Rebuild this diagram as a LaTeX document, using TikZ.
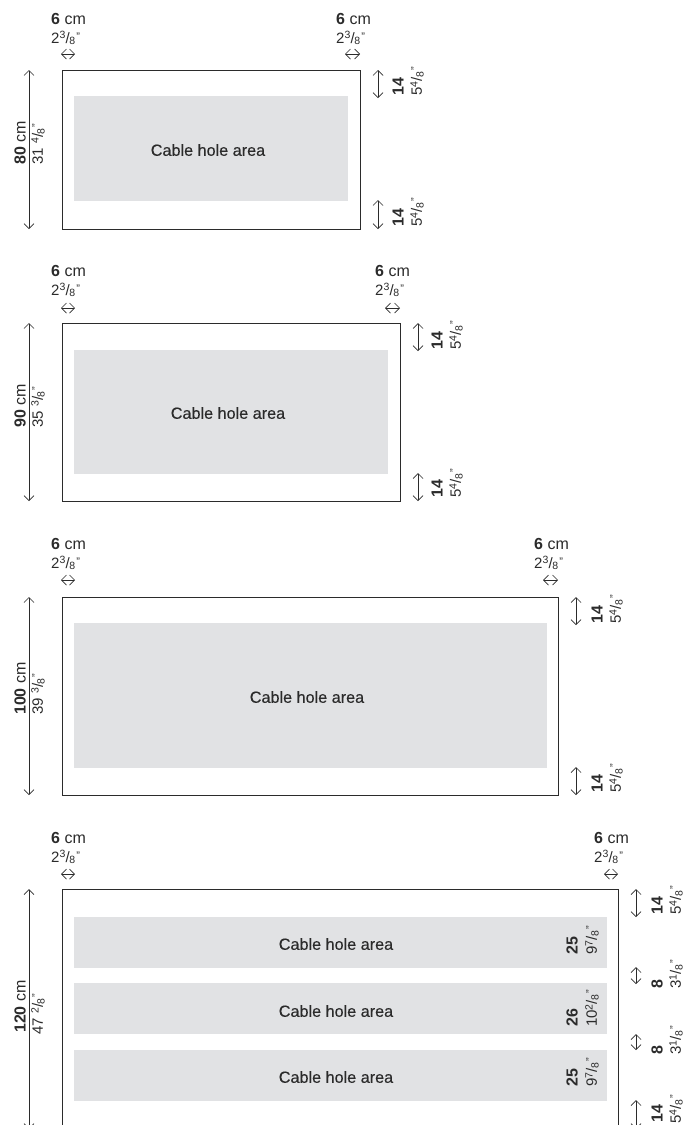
\documentclass[tikz,border=0pt]{standalone}
\usepackage{xcolor}
\usepackage{fontspec}
\usepackage{tikz}
\usetikzlibrary{arrows.meta}
\usetikzlibrary{positioning}
\setmainfont{Liberation Sans}
\newfontfamily\areafont[FakeBold=.25]{Liberation Sans}
\definecolor{fieldgray}{HTML}{E1E2E4}
\definecolor{inkgray}{HTML}{2B2B2B}
\newcommand{\frc}[2]{\raisebox{.28em}{\fontsize{10.5}{11}\selectfont#1}\kern.01em/\kern-.02em\raisebox{-.12em}{\fontsize{10.5}{11}\selectfont#2}}
\newcommand{\inch}{\kern.08em\raisebox{.2em}{\fontsize{11}{11}\selectfont"}}
\tikzset{
  panel/.style={draw=inkgray,line width=1pt,inner sep=0pt},
  field/.style={fill=fieldgray,inner sep=0pt},
  area/.style={inner sep=0pt,font=\areafont\fontsize{16.2}{17}\selectfont,text=inkgray},
  cmtext/.style={inner sep=0pt,anchor=west,font=\fontsize{16}{17}\selectfont,text=inkgray},
  intext/.style={inner sep=0pt,anchor=west,font=\fontsize{15}{16}\selectfont,text=inkgray},
  cmside/.style={cmtext,rotate=90},
  inside/.style={intext,rotate=90},
  dim/.style={<->,>={Straight Barb[length=5pt,width=10pt]},line width=.7pt,draw=inkgray},
}
\begin{document}
\begin{tikzpicture}[x=1pt,y=-1pt]
\useasboundingbox (0,0) rectangle (692,1125);
\clip (0,0) rectangle (692,1125);
% first table
\node (fieldA) [field,minimum width=274pt,minimum height=105pt] at (211,148.5) {};
\node (panelA) [panel,minimum width=298pt,minimum height=159pt] at (211,149.5) {};
\node (areaA) [area] at (208,150) {Cable hole area};
\node (cmA) [cmtext] at (51,19) {\textbf{6} cm};
\node (inA) [intext,below=6.5pt of cmA.south west,anchor=north west] {2\frc{3}{8}\inch};
\node (cmB) [cmtext] at (336,19) {\textbf{6} cm};
\node (inB) [intext,below=6.5pt of cmB.south west,anchor=north west] {2\frc{3}{8}\inch};
\coordinate (a1) at (61,54);
\coordinate (a2) at (75,54);
\coordinate (a3) at (345,54);
\coordinate (a4) at (360,54);
\coordinate (a5) at (29,70);
\coordinate (a6) at (29,229);
\coordinate (a7) at (378,70);
\coordinate (a8) at (378,98);
\coordinate (a9) at (378,200);
\coordinate (a10) at (378,229);
\draw[dim] (a1) -- (a2);
\draw[dim] (a3) -- (a4);
\draw[dim] (a5) -- (a6);
\draw[dim] (a7) -- (a8);
\draw[dim] (a9) -- (a10);
\node (sizeA) [cmside] at (20,165) {\textbf{80} cm};
\node (sizeB) [inside] at (38,165) {31 \frc{4}{8}\inch};
\node (sizeC) [cmside] at (398,96) {\textbf{14}};
\node (sizeD) [inside] at (417,96) {5\frc{4}{8}\inch};
\node (sizeE) [cmside] at (398,227) {\textbf{14}};
\node (sizeF) [inside] at (417,227) {5\frc{4}{8}\inch};
% second table
\node (fieldB) [field,minimum width=314pt,minimum height=124pt] at (231,412) {};
\node (panelB) [panel,minimum width=338pt,minimum height=178pt] at (231,412) {};
\node (areaB) [area] at (228,413) {Cable hole area};
\node (cmC) [cmtext] at (51,271) {\textbf{6} cm};
\node (inC) [intext,below=6.5pt of cmC.south west,anchor=north west] {2\frc{3}{8}\inch};
\node (cmD) [cmtext] at (375,271) {\textbf{6} cm};
\node (inD) [intext,below=6.5pt of cmD.south west,anchor=north west] {2\frc{3}{8}\inch};
\coordinate (b1) at (61,308);
\coordinate (b2) at (75,308);
\coordinate (b3) at (385,308);
\coordinate (b4) at (400,308);
\coordinate (b5) at (29,323);
\coordinate (b6) at (29,501);
\coordinate (b7) at (418,323);
\coordinate (b8) at (418,351);
\coordinate (b9) at (418,473);
\coordinate (b10) at (418,501);
\draw[dim] (b1) -- (b2);
\draw[dim] (b3) -- (b4);
\draw[dim] (b5) -- (b6);
\draw[dim] (b7) -- (b8);
\draw[dim] (b9) -- (b10);
\node (sizeG) [cmside] at (20,428) {\textbf{90} cm};
\node (sizeH) [inside] at (38,428) {35 \frc{3}{8}\inch};
\node (sizeI) [cmside] at (437,350) {\textbf{14}};
\node (sizeJ) [inside] at (456,350) {5\frc{4}{8}\inch};
\node (sizeK) [cmside] at (437,498) {\textbf{14}};
\node (sizeL) [inside] at (456,498) {5\frc{4}{8}\inch};
% third table
\node (fieldC) [field,minimum width=473pt,minimum height=145pt] at (310.5,695.5) {};
\node (panelC) [panel,minimum width=496pt,minimum height=198pt] at (310,696) {};
\node (areaC) [area] at (307,697) {Cable hole area};
\node (cmE) [cmtext] at (51,544) {\textbf{6} cm};
\node (inE) [intext,below=6.5pt of cmE.south west,anchor=north west] {2\frc{3}{8}\inch};
\node (cmF) [cmtext] at (534,544) {\textbf{6} cm};
\node (inF) [intext,below=6.5pt of cmF.south west,anchor=north west] {2\frc{3}{8}\inch};
\coordinate (c1) at (61,580);
\coordinate (c2) at (75,580);
\coordinate (c3) at (543,580);
\coordinate (c4) at (558,580);
\coordinate (c5) at (29,597);
\coordinate (c6) at (29,795);
\coordinate (c7) at (576,597);
\coordinate (c8) at (576,625);
\coordinate (c9) at (576,767);
\coordinate (c10) at (576,795);
\draw[dim] (c1) -- (c2);
\draw[dim] (c3) -- (c4);
\draw[dim] (c5) -- (c6);
\draw[dim] (c7) -- (c8);
\draw[dim] (c9) -- (c10);
\node (sizeM) [cmside] at (20,715) {\textbf{100} cm};
\node (sizeN) [inside] at (38,715) {39 \frc{3}{8}\inch};
\node (sizeO) [cmside] at (597,624) {\textbf{14}};
\node (sizeP) [inside] at (616,624) {5\frc{4}{8}\inch};
\node (sizeQ) [cmside] at (597,793) {\textbf{14}};
\node (sizeR) [inside] at (616,793) {5\frc{4}{8}\inch};
% fourth table
\node (fieldD) [field,minimum width=533pt,minimum height=51pt] at (340.5,942.5) {};
\node (fieldE) [field,below=15pt of fieldD,minimum width=533pt,minimum height=51pt] {};
\node (fieldF) [field,below=15pt of fieldE,minimum width=533pt,minimum height=51pt] {};
\node (panelD) [panel,minimum width=556pt,minimum height=300pt] at (340,1039) {};
\node (areaD) [area] at (336,944) {Cable hole area};
\node (areaE) [area] at (336,1011) {Cable hole area};
\node (areaF) [area] at (336,1077) {Cable hole area};
\node (cmG) [cmtext] at (51,838) {\textbf{6} cm};
\node (inG) [intext,below=6.5pt of cmG.south west,anchor=north west] {2\frc{3}{8}\inch};
\node (cmH) [cmtext] at (594,838) {\textbf{6} cm};
\node (inH) [intext,below=6.5pt of cmH.south west,anchor=north west] {2\frc{3}{8}\inch};
\coordinate (d1) at (61,874);
\coordinate (d2) at (75,874);
\coordinate (d3) at (604,874);
\coordinate (d4) at (618,874);
\coordinate (d5) at (29,889);
\coordinate (d6) at (29,1129);
\coordinate (d7) at (636,889);
\coordinate (d8) at (636,917);
\coordinate (d9) at (636,967);
\coordinate (d10) at (636,984);
\coordinate (d11) at (636,1034);
\coordinate (d12) at (636,1050);
\coordinate (d13) at (636,1100);
\coordinate (d14) at (636,1129);
\draw[dim] (d1) -- (d2);
\draw[dim] (d3) -- (d4);
\draw[dim] (d5) -- (d6);
\draw[dim] (d7) -- (d8);
\draw[dim] (d9) -- (d10);
\draw[dim] (d11) -- (d12);
\draw[dim] (d13) -- (d14);
\node (sizeS) [cmside] at (20,1033) {\textbf{120} cm};
\node (sizeT) [inside] at (38,1035) {47 \frc{2}{8}\inch};
\node (sizeU) [cmside] at (657,915) {\textbf{14}};
\node (sizeV) [inside] at (676,915) {5\frc{4}{8}\inch};
\node (sizeW) [cmside] at (657,989) {\textbf{8}};
\node (sizeX) [inside] at (676,989) {3\frc{1}{8}\inch};
\node (sizeY) [cmside] at (657,1055) {\textbf{8}};
\node (sizeZ) [inside] at (676,1055) {3\frc{1}{8}\inch};
\node (sizeAA) [cmside] at (657,1123) {\textbf{14}};
\node (sizeAB) [inside] at (676,1124) {5\frc{4}{8}\inch};
\node (sizeAC) [cmside] at (572,955) {\textbf{25}};
\node (sizeAD) [inside] at (592,955) {9\frc{7}{8}\inch};
\node (sizeAE) [cmside] at (572,1027) {\textbf{26}};
\node (sizeAF) [inside] at (592,1027) {10\frc{2}{8}\inch};
\node (sizeAG) [cmside] at (572,1087) {\textbf{25}};
\node (sizeAH) [inside] at (592,1087) {9\frc{7}{8}\inch};
\end{tikzpicture}
\end{document}
